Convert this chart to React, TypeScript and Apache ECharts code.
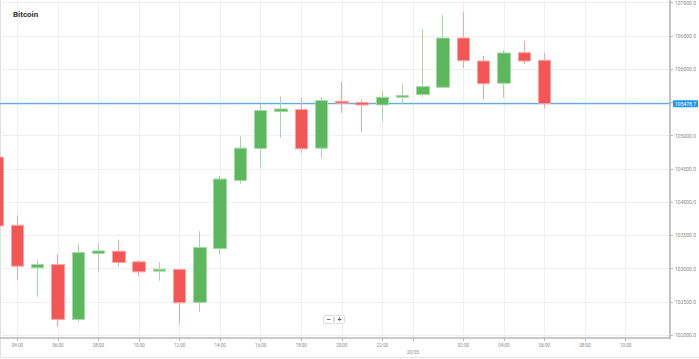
import React, { useEffect, useRef } from "react";
import * as echarts from "echarts";

// hours since 19/05 00:00
const hours = [3, 4, 5, 6, 7, 8, 9, 10, 11, 12, 13, 14, 15, 16, 17, 18, 19, 20, 21, 22, 23, 24, 25, 26, 27, 28, 29, 30];
const opens = [104675, 103650, 103010, 103060, 102235, 103225, 103260, 103100, 102960, 102985, 102490, 103300, 104325, 104805, 105360, 105390, 104810, 105515, 105495, 105460, 105575, 105615, 105725, 106465, 106120, 105785, 106245, 106130];
const closes = [103640, 103035, 103060, 102235, 103240, 103265, 103090, 102950, 102990, 102485, 103315, 104345, 104810, 105375, 105400, 104800, 105525, 105485, 105460, 105575, 105600, 105735, 106465, 106125, 105780, 106240, 106120, 105478.7];
const lows = [103600, 102825, 102575, 102125, 102200, 102950, 103025, 102885, 102815, 102165, 102345, 103210, 104270, 104515, 104965, 104735, 104665, 105340, 105050, 105210, 105475, 105575, 105715, 106015, 105540, 105565, 106075, 105410];
const highs = [104700, 103800, 103135, 103210, 103365, 103390, 103435, 103120, 103095, 102990, 103560, 104390, 104985, 105475, 105590, 105565, 105575, 105810, 105540, 105675, 105770, 106600, 106815, 106860, 106200, 106285, 106425, 106240];

const xTickValues = [4, 6, 8, 10, 12, 14, 16, 18, 20, 22, 23.5, 26, 28, 30, 32, 34];
const yLabelValues = [102000, 102500, 103000, 103500, 104000, 104500, 105000, 106000, 106500, 107000];
const yTickValues = [102000, 102500, 103000, 103500, 104000, 104500, 105000, 105500, 106000, 106500, 107000];
const currentPrice = 105478.7;
const dateLabel = "20/05";
const title = "Bitcoin";
const xMin = 3.139;
const xMax = 36.19;

export default function App() {
  const ref = useRef<HTMLDivElement>(null);
  useEffect(() => {
    const chart = echarts.init(ref.current!, null, { renderer: "svg" });
    const data = hours.map((h, i) => [h, opens[i], closes[i], lows[i], highs[i]]);
    const fmtHour = (v: number) => {
      if (v === 23.5) return "\n" + dateLabel;
      const h = ((v % 24) + 24) % 24;
      return (h < 10 ? "0" : "") + h + ":00";
    };
    chart.setOption({
      animation: false,
      backgroundColor: "#ffffff",
      title: {
        text: title,
        left: 8,
        top: 5,
        textStyle: { fontSize: 8, fontWeight: "bold", color: "#333", fontFamily: "Roboto" },
      },
      grid: { left: 0, right: 27, top: 0, bottom: 21 },
      xAxis: {
        type: "value",
        min: xMin,
        max: xMax,
        axisLine: { show: true, lineStyle: { color: "#b8b8b8", width: 1.5 } },
        axisTick: { show: true, length: 3, lineStyle: { color: "#b8b8b8" }, customValues: xTickValues },
        axisLabel: {
          customValues: xTickValues,
          formatter: fmtHour,
          fontSize: 4.5,
          lineHeight: 7,
          color: "#8a8a8a",
          margin: 4,
          fontFamily: "Roboto",
        },
        splitLine: { show: true, lineStyle: { color: "#efefef", width: 1 } },
      },
      yAxis: {
        type: "value",
        position: "right",
        min: 101955,
        max: 107025,
        scale: true,
        axisLine: { show: true, lineStyle: { color: "#c4c4c4", width: 2 } },
        axisTick: { show: true, length: 3, lineStyle: { color: "#b8b8b8" }, customValues: yTickValues },
        axisLabel: {
          customValues: yLabelValues,
          formatter: (v: number) => v.toFixed(1),
          fontSize: 5,
          color: "#8a8a8a",
          margin: 5,
          fontFamily: "Roboto",
        },
        splitLine: { show: true, lineStyle: { color: "#efefef", width: 1 } },
      },
      series: [
        {
          type: "line",
          data: [
            [xMin, currentPrice],
            [xMax, currentPrice],
          ],
          showSymbol: false,
          symbol: "none",
          silent: true,
          z: 1,
          color: "#5aaef0",
          lineStyle: { color: "#5aaef0", width: 1.2 },
          endLabel: {
            show: true,
            distance: 3,
            formatter: () => currentPrice.toFixed(1),
            backgroundColor: "#2196f3",
            color: "#ffffff",
            fontSize: 5,
            padding: [1, 2],
            borderRadius: 1,
            fontFamily: "Roboto",
          },
        },
        {
          type: "candlestick",
          data,
          barWidth: 13,
          clip: true,
          z: 2,
          itemStyle: {
            color: "#5cb85c",
            color0: "#f45656",
            borderColor: "#a6d8a6",
            borderColor0: "#f8a4a4",
            borderWidth: 1,
          },
        },
      ],
      graphic: [
        {
          type: "line",
          shape: { x1: 0.5, y1: 0, x2: 0.5, y2: 358 },
          style: { stroke: "#e0e0e0", lineWidth: 1 },
          silent: true,
        },
        {
          type: "line",
          shape: { x1: 0, y1: 357.5, x2: 699, y2: 357.5 },
          style: { stroke: "#e6e6e6", lineWidth: 1 },
          silent: true,
        },
        {
          type: "group",
          left: 323,
          top: 315,
          children: [
            { type: "rect", shape: { x: 0, y: 0, width: 10, height: 8, r: 1 }, style: { fill: "#fff", stroke: "#dcdcdc", lineWidth: 1 } },
            { type: "rect", shape: { x: 11, y: 0, width: 10, height: 8, r: 1 }, style: { fill: "#fff", stroke: "#dcdcdc", lineWidth: 1 } },
            { type: "text", x: 5, y: 4, style: { text: "−", fontSize: 7, fontWeight: "bold", fill: "#555", align: "center", verticalAlign: "middle" } },
            { type: "text", x: 16, y: 4, style: { text: "+", fontSize: 7, fontWeight: "bold", fill: "#555", align: "center", verticalAlign: "middle" } },
          ],
        },
      ],
    });
    return () => chart.dispose();
  }, []);
  return <div ref={ref} style={{ width: 699, height: 359, position: "absolute", left: 0, top: 0 }} />;
}
